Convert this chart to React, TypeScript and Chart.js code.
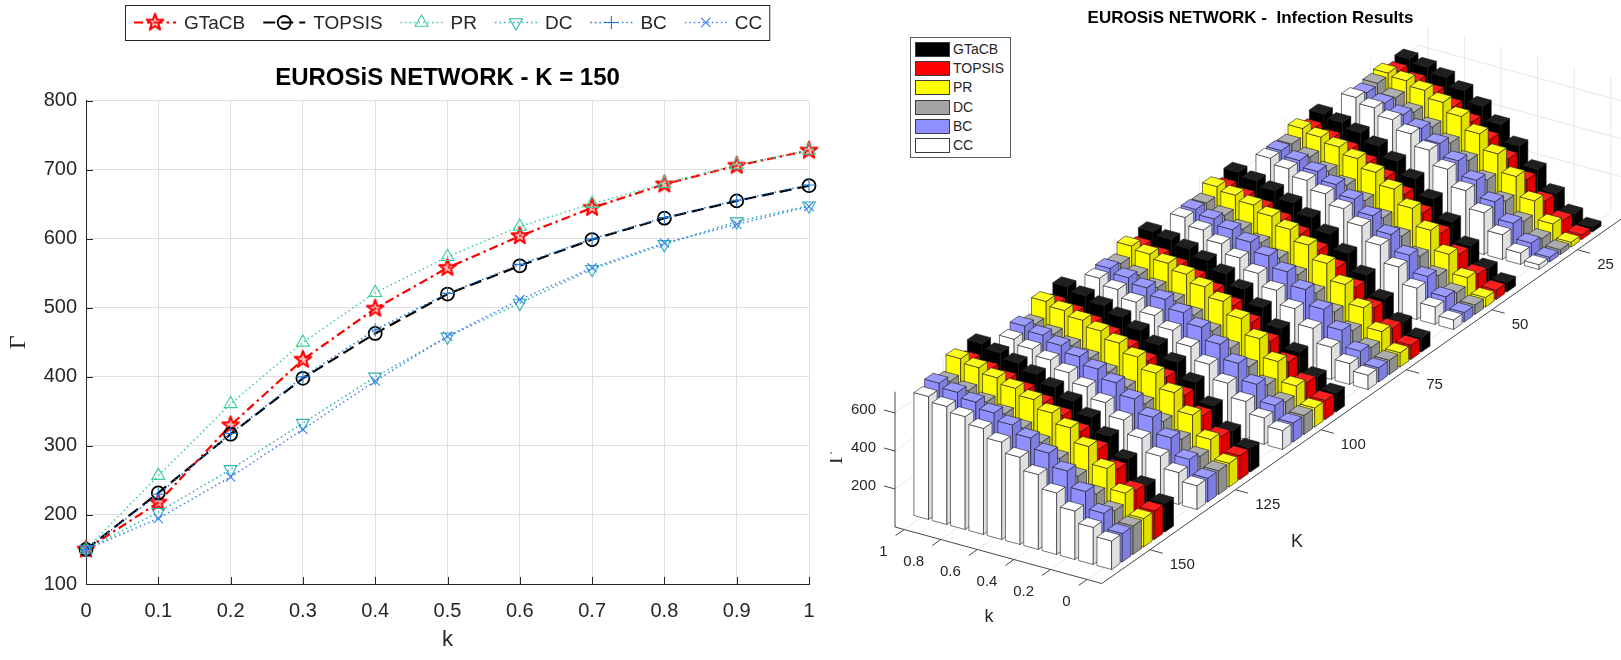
import React, { useEffect, useRef } from "react";
import { Chart, registerables } from "chart.js";
import { drawPoint } from "chart.js/helpers";

Chart.register(...registerables);

const FONT = "'Liberation Sans', Arial, Helvetica, sans-serif";
const INK = "#262626";

// ---- data ----
const SERIES = ["GTaCB", "TOPSIS", "PR", "DC", "BC", "CC"];
const K_SMALL = [0, 0.1, 0.2, 0.3, 0.4, 0.5, 0.6, 0.7, 0.8, 0.9, 1];
const GAMMA_TICKS = [100, 200, 300, 400, 500, 600, 700, 800];
const K_SEEDS = [25, 50, 75, 100, 125, 150];
const K_TICKS_3D = [0, 0.2, 0.4, 0.6, 0.8, 1];
const GAMMA_TICKS_3D = [200, 400, 600];

// rows follow SERIES order, columns follow K_SMALL
const GAMMA_150 = [
  [150, 218, 330, 425, 499, 558, 604, 645, 679, 706, 728],
  [150, 232, 317, 398, 463, 520, 561, 599, 630, 655, 677],
  [150, 257, 361, 450, 522, 574, 618, 651, 680, 707, 728],
  [150, 204, 266, 333, 400, 458, 507, 556, 592, 625, 648],
  [150, 230, 318, 400, 468, 521, 563, 600, 631, 656, 678],
  [150, 195, 255, 324, 394, 459, 512, 558, 594, 621, 647],
];
const GAMMA_125 = [
  [125, 190, 295, 393, 472, 537, 588, 632, 665, 691, 712],
  [125, 200, 284, 364, 433, 492, 538, 578, 611, 639, 661],
  [125, 224, 326, 418, 494, 553, 600, 637, 667, 692, 713],
  [125, 175, 238, 305, 372, 433, 486, 533, 573, 606, 633],
  [125, 198, 285, 367, 437, 496, 542, 581, 613, 641, 663],
  [125, 168, 228, 296, 366, 431, 488, 536, 576, 607, 633],
];
const GAMMA_100 = [
  [100, 160, 262, 360, 445, 515, 570, 614, 648, 671, 686],
  [100, 168, 250, 332, 405, 468, 519, 561, 596, 624, 647],
  [100, 190, 292, 386, 466, 530, 580, 620, 651, 673, 689],
  [100, 145, 208, 277, 348, 413, 470, 519, 562, 602, 636],
  [100, 166, 251, 335, 409, 472, 523, 566, 601, 628, 650],
  [100, 140, 200, 270, 343, 410, 469, 521, 565, 605, 638],
];
const GAMMA_75 = [
  [75, 130, 226, 326, 415, 490, 551, 601, 638, 664, 683],
  [75, 138, 218, 300, 377, 444, 501, 547, 586, 617, 642],
  [75, 160, 259, 355, 440, 510, 566, 609, 642, 667, 686],
  [75, 115, 178, 250, 324, 393, 455, 508, 554, 600, 639],
  [75, 136, 219, 303, 381, 449, 506, 552, 591, 621, 645],
  [75, 110, 170, 243, 320, 390, 453, 508, 556, 602, 642],
];
const GAMMA_50 = [
  [50, 100, 190, 290, 384, 465, 531, 585, 627, 655, 674],
  [50, 108, 186, 270, 350, 421, 483, 534, 576, 609, 635],
  [50, 128, 225, 325, 414, 489, 551, 597, 632, 657, 676],
  [50, 88, 152, 228, 306, 377, 441, 496, 544, 592, 634],
  [50, 106, 187, 273, 355, 427, 489, 539, 581, 613, 639],
  [50, 92, 165, 250, 338, 413, 478, 530, 574, 609, 638],
];
const GAMMA_25 = [
  [25, 68, 150, 250, 348, 434, 504, 560, 603, 630, 647],
  [25, 75, 150, 235, 320, 395, 460, 514, 559, 594, 621],
  [25, 95, 190, 292, 385, 464, 529, 577, 614, 638, 652],
  [25, 58, 122, 202, 287, 363, 429, 487, 538, 588, 638],
  [25, 73, 151, 238, 325, 401, 466, 519, 564, 599, 627],
  [25, 60, 130, 220, 310, 396, 470, 530, 578, 614, 642],
];
// same order as K_SEEDS
const GAMMA_BY_SEEDS = [GAMMA_25, GAMMA_50, GAMMA_75, GAMMA_100, GAMMA_125, GAMMA_150];

// ---- styles ----
const LINE_STYLE = [
  { color: "#ff0000", width: 2.2, dash: [9, 4, 2.5, 4], marker: "star", radius: 9, mw: 2, rot: 0 },
  { color: "#000000", width: 2.2, dash: [12, 6], marker: "circle", radius: 6.5, mw: 1.8, rot: 0 },
  { color: "#3ccf95", width: 1.5, dash: [1.5, 3], marker: "triangle", radius: 7.5, mw: 1.1, rot: 0 },
  { color: "#2bb3ae", width: 1.5, dash: [1.5, 3], marker: "triangle", radius: 7.5, mw: 1.1, rot: 180 },
  { color: "#1f78d1", width: 1.5, dash: [1.5, 3], marker: "cross", radius: 6.5, mw: 1.1, rot: 0 },
  { color: "#3d7ef2", width: 1.5, dash: [1.5, 3], marker: "crossRot", radius: 6.5, mw: 1.1, rot: 0 },
];
const BAR_COLORS = ["#000000", "#ff0000", "#ffff00", "#a3a3a3", "#8f8fff", "#ffffff"];

// 3D view (page px): origin at the Γ-axis foot, unit vectors for k-slot, K and Γ
const VIEW = { ox: 895, oy: 527, ux: 18.3, uy: 5.0, kx: 3.42, ky: -2.4, gz: 0.19 };
const ROW = 3.125; // K units per series row
const K_FRONT = 150 + 4.5 * ROW;
const K_BACK = 25 - 4.5 * ROW;
const U_MAX = 11.3;
const G_MAX = 712;
const uOf = (k: number) => 0.5 + (1 - k) * 10;

const RIGHT_LEFT = 830;
const RIGHT_W = 791;
const PAGE_H = 660;
const RIGHT_PAD_L = 50;
const TITLE3D = { size: 17, top: 8, bottom: 2 };
const TITLE3D_H = TITLE3D.size * 1.2 + TITLE3D.top + TITLE3D.bottom;

function shade(hex: string, f: number) {
  const n = parseInt(hex.slice(1), 16);
  const t = f < 0 ? 0 : 255;
  const p = Math.abs(f);
  const ch = (v: number) => Math.round(v + (t - v) * p);
  return `rgb(${ch(n >> 16)},${ch((n >> 8) & 255)},${ch(n & 255)})`;
}

function makeStar(color: string) {
  const c = document.createElement("canvas");
  c.width = 22;
  c.height = 22;
  const g = c.getContext("2d")!;
  g.beginPath();
  for (let i = 0; i < 10; i++) {
    const r = i % 2 === 0 ? 8.8 : 3.5;
    const a = -Math.PI / 2 + (i * Math.PI) / 5;
    const x = 11 + r * Math.cos(a);
    const y = 11 + r * Math.sin(a);
    if (i === 0) g.moveTo(x, y);
    else g.lineTo(x, y);
  }
  g.closePath();
  g.fillStyle = "rgba(255,90,90,0.35)";
  g.fill();
  g.strokeStyle = color;
  g.lineWidth = 2;
  g.lineJoin = "round";
  g.stroke();
  return c;
}

const inwardTicks = {
  id: "inwardTicks",
  afterDraw(chart: any) {
    const { ctx, chartArea: a, scales } = chart;
    ctx.save();
    ctx.strokeStyle = INK;
    ctx.lineWidth = 1;
    ctx.beginPath();
    scales.x.ticks.forEach((t: any) => {
      const x = Math.round(scales.x.getPixelForValue(t.value)) + 0.5;
      ctx.moveTo(x, a.bottom);
      ctx.lineTo(x, a.bottom - 7);
    });
    scales.y.ticks.forEach((t: any) => {
      const y = Math.round(scales.y.getPixelForValue(t.value)) + 0.5;
      ctx.moveTo(a.left, y);
      ctx.lineTo(a.left + 7, y);
    });
    ctx.stroke();
    ctx.restore();
  },
};

function makeLineLegend(markers: any[]) {
  return {
    id: "lineLegend",
    afterDraw(chart: any) {
      const ctx = chart.ctx;
      ctx.save();
      ctx.font = `19px ${FONT}`;
      const sample = 46;
      const gapA = 6;
      const gapB = 16;
      const pad = 7;
      const widths = SERIES.map((s) => ctx.measureText(s).width);
      const total =
        widths.reduce((acc, w) => acc + sample + gapA + w, 0) + gapB * (SERIES.length - 1) + pad * 2;
      const cx = (chart.chartArea.left + chart.chartArea.right) / 2;
      let x = Math.round(cx - total / 2);
      const top = 5;
      const h = 35;
      const cy = top + h / 2;
      ctx.fillStyle = "#fff";
      ctx.fillRect(x, top, total, h);
      ctx.strokeStyle = INK;
      ctx.lineWidth = 1;
      ctx.strokeRect(x + 0.5, top + 0.5, total, h);
      x += pad;
      SERIES.forEach((name, i) => {
        const st = LINE_STYLE[i];
        ctx.setLineDash(st.dash);
        ctx.strokeStyle = st.color;
        ctx.lineWidth = st.width;
        ctx.beginPath();
        ctx.moveTo(x + 2, cy);
        ctx.lineTo(x + sample - 2, cy);
        ctx.stroke();
        ctx.setLineDash([]);
        ctx.lineWidth = st.mw;
        ctx.fillStyle = "rgba(0,0,0,0)";
        drawPoint(
          ctx,
          { pointStyle: markers[i], rotation: st.rot, radius: st.radius, borderWidth: st.mw },
          x + sample / 2,
          cy
        );
        x += sample + gapA;
        ctx.fillStyle = INK;
        ctx.textBaseline = "middle";
        ctx.textAlign = "left";
        ctx.fillText(name, x, cy + 1);
        x += widths[i] + gapB;
      });
      ctx.restore();
    },
  };
}

const bars3d = {
  id: "bars3d",
  afterDatasetsDraw(chart: any) {
    const { ctx } = chart;
    const xs = chart.scales.x;
    const ys = chart.scales.y;
    const pt = (u: number, K: number, g: number) => {
      const d = K_FRONT - K;
      return [
        xs.getPixelForValue(VIEW.ox + u * VIEW.ux + d * VIEW.kx),
        ys.getPixelForValue(VIEW.oy + u * VIEW.uy + d * VIEW.ky - g * VIEW.gz),
      ];
    };
    const at = (px: number, py: number) => [xs.getPixelForValue(px), ys.getPixelForValue(py)];
    const seg = (a: number[], b: number[]) => {
      ctx.beginPath();
      ctx.moveTo(a[0], a[1]);
      ctx.lineTo(b[0], b[1]);
      ctx.stroke();
    };
    const poly = (ps: number[][], fill: string) => {
      ctx.beginPath();
      ps.forEach((p, i) => (i ? ctx.lineTo(p[0], p[1]) : ctx.moveTo(p[0], p[1])));
      ctx.closePath();
      ctx.fillStyle = fill;
      ctx.fill();
      ctx.stroke();
    };

    ctx.save();
    // grid on floor and back walls
    ctx.strokeStyle = "#e2e2e2";
    ctx.lineWidth = 0.8;
    K_TICKS_3D.forEach((k) => {
      const u = uOf(k);
      seg(pt(u, K_FRONT, 0), pt(u, K_BACK, 0));
      seg(pt(u, K_BACK, 0), pt(u, K_BACK, G_MAX));
    });
    K_SEEDS.forEach((K) => {
      seg(pt(0, K, 0), pt(U_MAX, K, 0));
      seg(pt(0, K, 0), pt(0, K, G_MAX));
    });
    GAMMA_TICKS_3D.forEach((g) => {
      seg(pt(0, K_FRONT, g), pt(0, K_BACK, g));
      seg(pt(0, K_BACK, g), pt(U_MAX, K_BACK, g));
    });

    // bars, painted back to front
    const bars: { u: number; kr: number; g: number; c: string }[] = [];
    K_SEEDS.forEach((K, gi) =>
      SERIES.forEach((_, si) =>
        K_SMALL.forEach((k, j) =>
          bars.push({ u: uOf(k), kr: K + (si - 2.5) * ROW, g: GAMMA_BY_SEEDS[gi][si][j], c: BAR_COLORS[si] })
        )
      )
    );
    bars.sort((a, b) => a.kr - b.kr || a.u - b.u);
    ctx.lineWidth = 0.6;
    ctx.strokeStyle = "#1a1a1a";
    ctx.lineJoin = "round";
    const hw = 0.4;
    const hd = 0.4 * ROW;
    bars.forEach((b) => {
      const u0 = b.u - hw;
      const u1 = b.u + hw;
      const k0 = b.kr - hd;
      const k1 = b.kr + hd;
      poly([pt(u0, k1, 0), pt(u1, k1, 0), pt(u1, k1, b.g), pt(u0, k1, b.g)], b.c);
      poly([pt(u1, k1, 0), pt(u1, k0, 0), pt(u1, k0, b.g), pt(u1, k1, b.g)], shade(b.c, -0.12));
      poly([pt(u0, k1, b.g), pt(u1, k1, b.g), pt(u1, k0, b.g), pt(u0, k0, b.g)], shade(b.c, 0.12));
    });

    // axes, ticks and labels
    ctx.strokeStyle = "#474747";
    ctx.lineWidth = 1;
    seg(pt(0, K_FRONT, 0), pt(U_MAX, K_FRONT, 0));
    seg(pt(U_MAX, K_FRONT, 0), pt(U_MAX, K_BACK, 0));
    seg(pt(0, K_FRONT, 0), pt(0, K_FRONT, G_MAX));
    ctx.fillStyle = INK;
    ctx.font = `15px ${FONT}`;
    ctx.textBaseline = "middle";
    K_TICKS_3D.forEach((k) => {
      const a = pt(uOf(k), K_FRONT, 0);
      const b = pt(uOf(k), K_FRONT + 2.5, 0);
      seg(a, b);
      ctx.textAlign = "right";
      ctx.fillText(String(k), b[0] - 8, b[1] + 16);
    });
    K_SEEDS.forEach((K) => {
      const a = pt(U_MAX, K, 0);
      const b = pt(U_MAX + 0.7, K, 0);
      seg(a, b);
      ctx.textAlign = "left";
      ctx.fillText(String(K), b[0] + 7, b[1] + 12);
    });
    GAMMA_TICKS_3D.forEach((g) => {
      const a = pt(0, K_FRONT, g);
      const b = pt(-0.6, K_FRONT, g);
      seg(a, b);
      ctx.textAlign = "right";
      ctx.fillText(String(g), b[0] - 8, b[1]);
    });
    ctx.font = `18px ${FONT}`;
    ctx.textAlign = "center";
    const kPos = at(989, 617);
    ctx.fillText("k", kPos[0], kPos[1]);
    const bigKPos = at(1297, 542);
    ctx.fillText("K", bigKPos[0], bigKPos[1]);
    const gPos = at(836, 458);
    ctx.save();
    ctx.translate(gPos[0], gPos[1]);
    ctx.rotate(-Math.PI / 2);
    ctx.font = `21px 'Liberation Serif', serif`;
    ctx.fillText("Γ", 0, 0);
    ctx.restore();
    ctx.restore();
  },
};

export default function App() {
  const leftRef = useRef<HTMLCanvasElement>(null);
  const rightRef = useRef<HTMLCanvasElement>(null);

  useEffect(() => {
    if (!leftRef.current || !rightRef.current) return;
    const star = makeStar("#ff0000");
    const markers = LINE_STYLE.map((s) => (s.marker === "star" ? star : s.marker));

    const left = new Chart(leftRef.current, {
      type: "line",
      data: {
        datasets: SERIES.map((name, i) => ({
          label: name,
          data: K_SMALL.map((k, j) => ({ x: k, y: GAMMA_150[i][j] })),
          borderColor: LINE_STYLE[i].color,
          borderWidth: LINE_STYLE[i].width,
          borderDash: LINE_STYLE[i].dash,
          borderCapStyle: "butt",
          pointStyle: markers[i],
          pointRotation: LINE_STYLE[i].rot,
          pointRadius: LINE_STYLE[i].radius,
          pointBorderWidth: LINE_STYLE[i].mw,
          pointBorderColor: LINE_STYLE[i].color,
          pointBackgroundColor: "rgba(0,0,0,0)",
          fill: false,
          tension: 0,
          clip: false,
          order: SERIES.length - 1 - i,
        })),
      },
      options: {
        animation: false,
        responsive: true,
        maintainAspectRatio: false,
        layout: { padding: { top: 50, right: 21, left: 0, bottom: 0 } },
        plugins: {
          legend: { display: false },
          tooltip: { enabled: false },
          title: {
            display: true,
            fullSize: false,
            text: "EUROSiS NETWORK - K = 150",
            color: "#000",
            font: { size: 24, weight: "bold", family: FONT, lineHeight: 1.2 },
            padding: { top: 14, bottom: 8 },
          },
        },
        scales: {
          x: {
            type: "linear",
            min: 0,
            max: 1,
            afterBuildTicks: (s: any) => {
              s.ticks = K_SMALL.map((v) => ({ value: v }));
            },
            afterFit: (s: any) => {
              s.height = 76;
            },
            ticks: {
              color: INK,
              font: { size: 20, family: FONT },
              padding: 15,
              maxRotation: 0,
              callback: (v: any) => String(+Number(v).toFixed(1)),
            },
            grid: { color: "#dfdfdf", drawTicks: false },
            border: { color: INK, width: 1 },
            title: {
              display: true,
              text: "k",
              color: INK,
              font: { size: 22, family: FONT },
              padding: { top: 0, bottom: 7 },
            },
          },
          y: {
            type: "linear",
            min: 100,
            max: 800,
            afterBuildTicks: (s: any) => {
              s.ticks = GAMMA_TICKS.map((v) => ({ value: v }));
            },
            afterFit: (s: any) => {
              s.width = 86;
            },
            ticks: {
              color: INK,
              font: { size: 20, family: FONT },
              padding: 9,
              callback: (v: any) => String(v),
            },
            grid: { color: "#dfdfdf", drawTicks: false },
            border: { color: INK, width: 1 },
            title: {
              display: true,
              text: "Γ",
              color: INK,
              font: { size: 24, family: "'Liberation Serif', serif" },
              padding: { top: 4, bottom: 0 },
            },
          },
        },
      },
      plugins: [inwardTicks, makeLineLegend(markers)],
    });

    const right = new Chart(rightRef.current, {
      type: "scatter",
      data: { datasets: [] },
      options: {
        animation: false,
        responsive: true,
        maintainAspectRatio: false,
        layout: { padding: { left: RIGHT_PAD_L, right: 0, top: 0, bottom: 0 } },
        plugins: {
          legend: { display: false },
          tooltip: { enabled: false },
          title: {
            display: true,
            text: "EUROSiS NETWORK -  Infection Results",
            color: "#000",
            font: { size: TITLE3D.size, weight: "bold", family: FONT, lineHeight: 1.2 },
            padding: { top: TITLE3D.top, bottom: TITLE3D.bottom },
          },
        },
        scales: {
          x: { type: "linear", display: false, min: RIGHT_LEFT + RIGHT_PAD_L, max: RIGHT_LEFT + RIGHT_W },
          y: { type: "linear", display: false, reverse: true, min: TITLE3D_H, max: PAGE_H },
        },
      },
      plugins: [bars3d],
    });

    return () => {
      left.destroy();
      right.destroy();
    };
  }, []);

  return (
    <div
      style={{
        position: "absolute",
        left: 0,
        top: 0,
        width: 1621,
        height: PAGE_H,
        background: "#fff",
        fontFamily: FONT,
        overflow: "hidden",
      }}
    >
      <div style={{ position: "absolute", left: 0, top: 0, width: RIGHT_LEFT, height: PAGE_H }}>
        <canvas ref={leftRef} />
      </div>
      <div style={{ position: "absolute", left: RIGHT_LEFT, top: 0, width: RIGHT_W, height: PAGE_H }}>
        <canvas ref={rightRef} />
      </div>
      <div
        style={{
          position: "absolute",
          left: 910,
          top: 37,
          width: 101,
          height: 121,
          boxSizing: "border-box",
          border: "1px solid #5c5c5c",
          background: "#fff",
          padding: "1.5px 0 0 4px",
        }}
      >
        {SERIES.map((s, i) => (
          <div key={s} style={{ display: "flex", alignItems: "center", height: 19.3 }}>
            <span
              style={{
                width: 35,
                height: 15,
                boxSizing: "border-box",
                border: "1px solid #3c3c3c",
                background: BAR_COLORS[i],
                flex: "none",
              }}
            />
            <span style={{ marginLeft: 3, fontSize: 14, color: INK, lineHeight: "15px" }}>{s}</span>
          </div>
        ))}
      </div>
    </div>
  );
}
